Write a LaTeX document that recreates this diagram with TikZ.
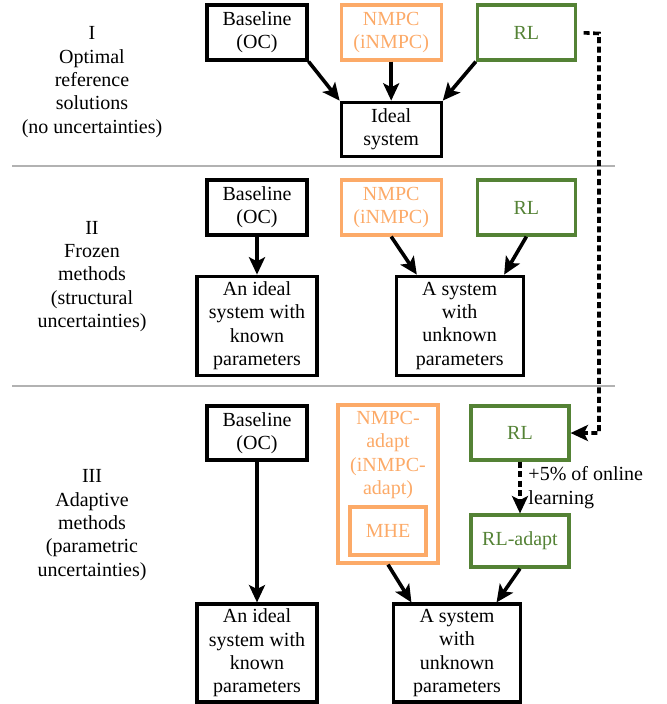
\documentclass[tikz,border=0pt]{standalone}
\usepackage{fontspec}
\setmainfont{Liberation Serif}
\newfontfamily\diagserif{Liberation Serif}
\usepackage{xcolor}
\usepackage{tikz}
\usetikzlibrary{arrows.meta, positioning, calc}
\definecolor{nmpcorange}{RGB}{252,170,104}
\definecolor{rlgreen}{RGB}{84,130,53}
\definecolor{sepgray}{RGB}{178,178,178}
\newcommand{\diagfont}{\diagserif\fontsize{15}{17.5}\selectfont}
\tikzset{
  basebox/.style={rectangle, draw=black, line width=2.4pt, align=center,
                  minimum width=75pt, minimum height=41.25pt, inner sep=1pt},
  nmpcbox/.style={rectangle, draw=nmpcorange, text=nmpcorange, line width=2.4pt, align=center,
                  minimum width=75pt, minimum height=41.25pt, inner sep=1pt},
  rlbox/.style={rectangle, draw=rlgreen, text=rlgreen, line width=2.4pt, align=center,
                minimum width=73.5pt, minimum height=41.25pt, inner sep=1pt},
  sysbox/.style={rectangle, draw=black, line width=2.4pt, align=center,
                 minimum width=90pt, minimum height=74.25pt, inner sep=1pt},
  rowlabel/.style={align=center, inner sep=0pt},
  arrow/.style={-{Stealth[length=13pt, width=12pt, inset=3pt]}, line width=2.7pt},
  dasharrow/.style={arrow, dash pattern=on 4.5pt off 2.6pt},
  sep/.style={draw=sepgray, line width=2.2pt},
  steplabel/.style={right, midway, align=left, xshift=3pt, inner sep=2pt},
}
\begin{document}
\begin{tikzpicture}[x=0.75pt, y=-0.75pt, font=\diagfont]
  \useasboundingbox (0,0) rectangle (667,704);

  % I: optimal reference solutions
  \node[rowlabel] (lab1) at (92,82) {I\\Optimal\\reference\\solutions\\(no uncertainties)};
  \node[basebox] (base1) at (257,32.5) {Baseline\\(OC)};
  \node[nmpcbox, right=23.25pt of base1] (nmpc1) {NMPC\\(iNMPC)};
  \node[rlbox, right=24.75pt of nmpc1] (rl1) {RL};
  \node[basebox, minimum height=40.5pt, below=29.25pt of nmpc1] (ideal1) {Ideal\\system};

  \draw[arrow] (base1.south east) -- (ideal1.north west);
  \draw[arrow] (nmpc1) -- (ideal1);
  \draw[arrow] (rl1.south west) -- (ideal1.north east);

  \draw[sep] (12,166) -- (615,166);

  % II: frozen methods
  \node[rowlabel] (lab2) at (92,276.5) {II\\Frozen\\methods\\(structural\\uncertainties)};
  \node[basebox] (base2) at (257,207.5) {Baseline\\(OC)};
  \node[nmpcbox, right=23.25pt of base2] (nmpc2) {NMPC\\(iNMPC)};
  \node[rlbox, right=24.75pt of nmpc2] (rl2) {RL};
  \node[sysbox, below=28.5pt of base2] (ideal2) {An ideal\\system with\\known\\parameters};
  \node[sysbox, minimum width=95.25pt, right=57pt of ideal2] (sys2) {A system\\with\\unknown\\parameters};

  \draw[arrow] (base2) -- (ideal2);
  \draw[arrow] (nmpc2.south) -- (sys2.130);
  \draw[arrow] (rl2.south) -- (sys2.49);

  \draw[sep] (12,386) -- (615,386);

  % III: adaptive methods
  \node[rowlabel] (lab3) at (92,525) {III\\Adaptive\\methods\\(parametric\\uncertainties)};
  \node[basebox, minimum height=40.5pt] (base3) at (257,433) {Baseline\\(OC)};
  \node[nmpcbox, minimum height=118.5pt] (nmpcout) at (388,484) {};
  \node[text=nmpcorange, align=center, inner sep=0pt] (nmpc3) at (388,455) {NMPC-\\adapt\\(iNMPC-\\adapt)};
  \node[nmpcbox, minimum width=57pt, minimum height=36pt] (mhe) at (388,531) {MHE};
  \node[rlbox, minimum height=40.5pt] (rl3) at (520,433) {RL};
  \node[rlbox, minimum height=39pt] (rladapt) at (520,541) {RL-adapt};
  \node[sysbox, minimum height=73.5pt] (ideal3) at (257,653) {An ideal\\system with\\known\\parameters};
  \node[sysbox, minimum width=95.25pt, minimum height=73.5pt] (sys3) at (457,653) {A system\\with\\unknown\\parameters};

  \draw[arrow] (base3) -- (ideal3);
  \draw[arrow] (nmpcout.south) -- (sys3.132);
  \draw[arrow] (rladapt.south) -- (sys3.52);
  \draw[dasharrow] (rl3) -- node[steplabel] {+5\% of online\\learning} (rladapt);

  % RL policy carried over from I to III
  \coordinate (turn) at (599,33.5);
  \draw[dasharrow, shorten <=5pt] (rl1.east) -- (turn) |- (rl3.east);
\end{tikzpicture}
\end{document}
